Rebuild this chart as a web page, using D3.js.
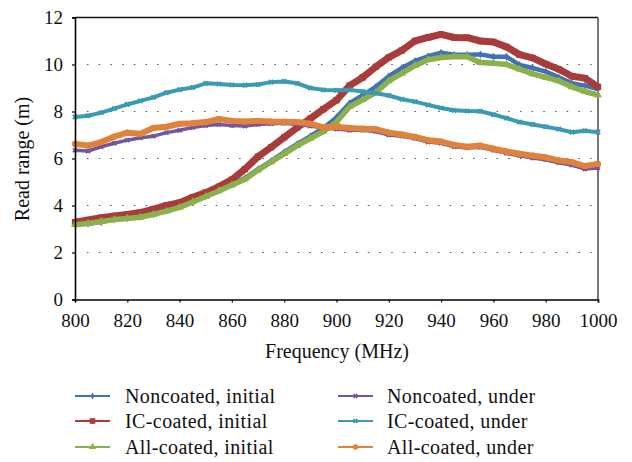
<!DOCTYPE html>
<html>
<head>
<meta charset="utf-8">
<script src="https://cdn.jsdelivr.net/npm/d3@7"></script>
<style>
  html, body { margin: 0; padding: 0; background: #fff; }
  svg { display: block; }
  svg text { font-family: "Liberation Serif", "Times New Roman", serif !important; fill: #111; }
</style>
</head>
<body>
<svg id="chart" width="632" height="462"></svg>
<script>
const freqs = [800,805,810,815,820,825,830,835,840,845,850,855,860,865,870,875,880,885,890,895,900,
               905,910,915,920,925,930,935,940,945,950,955,960,965,970,975,980,985,990,995,1000];

const noncoatedInitial = [3.20,3.22,3.30,3.40,3.46,3.52,3.63,3.78,3.95,4.17,4.40,4.65,4.90,5.17,5.55,5.90,6.27,6.62,6.95,7.30,7.75,
                          8.35,8.70,9.05,9.50,9.85,10.15,10.35,10.50,10.42,10.42,10.43,10.33,10.33,9.98,9.85,9.70,9.45,9.20,9.10,8.95];
const icCoatedInitial  = [3.29,3.38,3.48,3.55,3.62,3.70,3.85,4.00,4.12,4.35,4.55,4.80,5.10,5.55,6.08,6.48,6.90,7.32,7.70,8.10,8.48,
                          9.10,9.45,9.90,10.30,10.60,11.00,11.15,11.28,11.15,11.14,11.00,10.96,10.75,10.42,10.28,10.02,9.80,9.50,9.42,9.05];
const allCoatedInitial = [3.18,3.24,3.32,3.40,3.45,3.50,3.62,3.76,3.92,4.15,4.38,4.62,4.87,5.12,5.50,5.85,6.20,6.55,6.85,7.15,7.55,
                          8.20,8.50,8.80,9.30,9.62,9.95,10.20,10.30,10.33,10.33,10.08,10.05,10.00,9.80,9.60,9.45,9.30,9.05,8.85,8.70];
const noncoatedUnder   = [6.35,6.32,6.50,6.65,6.78,6.88,6.95,7.10,7.20,7.32,7.40,7.45,7.40,7.38,7.45,7.48,7.50,7.45,7.38,7.30,7.25,
                          7.20,7.20,7.15,7.00,6.95,6.85,6.70,6.65,6.50,6.45,6.48,6.35,6.22,6.12,6.02,5.95,5.82,5.72,5.55,5.60];
const icCoatedUnder    = [7.77,7.82,7.95,8.12,8.30,8.45,8.60,8.80,8.93,9.02,9.20,9.17,9.13,9.12,9.15,9.25,9.28,9.20,9.00,8.92,8.90,
                          8.92,8.85,8.78,8.68,8.52,8.42,8.28,8.15,8.05,8.02,8.01,7.87,7.72,7.55,7.45,7.35,7.25,7.12,7.18,7.12];
const allCoatedUnder   = [6.62,6.55,6.70,6.93,7.10,7.05,7.30,7.35,7.48,7.50,7.55,7.68,7.60,7.57,7.60,7.57,7.56,7.55,7.48,7.32,7.35,
                          7.30,7.27,7.25,7.10,7.02,6.92,6.78,6.72,6.58,6.50,6.55,6.42,6.30,6.20,6.12,6.05,5.92,5.85,5.68,5.77];

const seriesNames = ["Noncoated, initial","IC-coated, initial","All-coated, initial",
                     "Noncoated, under","IC-coated, under","All-coated, under"];
const xTicks = [800,820,840,860,880,900,920,940,960,980,1000];
const yTicks = [0,2,4,6,8,10,12];

const seriesValues = [noncoatedInitial, icCoatedInitial, allCoatedInitial, noncoatedUnder, icCoatedUnder, allCoatedUnder];
const styles = [
  {color:"#4072b5", width:4.5, symbol:d3.symbolDiamond,  size:18, rot:false},
  {color:"#a83c3a", width:7,   symbol:d3.symbolSquare,   size:40, rot:false},
  {color:"#8bb04c", width:5.5, symbol:d3.symbolTriangle, size:28, rot:false},
  {color:"#7356a0", width:3.5, symbol:d3.symbolCross,    size:18, rot:true},
  {color:"#3b9ab2", width:4,   symbol:d3.symbolCross,    size:20, rot:true},
  {color:"#e0823a", width:6,   symbol:d3.symbolCircle,   size:30, rot:false}
];

const FONT = '"Liberation Serif", "Times New Roman", serif';
const svg = d3.select("#chart");
const m = {left:75, right:598, top:17.5, bottom:299.5};
const x = d3.scaleLinear().domain([800,1000]).range([m.left, m.right]);
const y = d3.scaleLinear().domain([0,12]).range([m.bottom, m.top]);

// gridlines
svg.append("g").selectAll("line").data(yTicks.filter(v => v > 0 && v < 12)).join("line")
  .attr("x1", m.left + 12).attr("x2", m.right)
  .attr("y1", d => y(d)).attr("y2", d => y(d))
  .attr("stroke", "#555").attr("stroke-width", 1.2).attr("stroke-dasharray", "1.5,10.2");

// frame top/right
svg.append("line").attr("x1", m.left).attr("x2", m.right).attr("y1", m.top).attr("y2", m.top)
  .attr("stroke", "#111").attr("stroke-width", 1.3);
svg.append("line").attr("x1", m.right).attr("x2", m.right).attr("y1", m.top).attr("y2", m.bottom)
  .attr("stroke", "#555").attr("stroke-width", 1.6);

// series
const line = d3.line().x((d,i) => x(freqs[i])).y(d => y(d));
const plot = svg.append("g");
seriesValues.forEach((vals, k) => {
  const st = styles[k];
  plot.append("path").datum(vals).attr("d", line)
    .attr("fill", "none").attr("stroke", st.color).attr("stroke-width", st.width)
    .attr("stroke-linejoin", "round");
  plot.append("g").selectAll("path").data(vals).join("path")
    .attr("transform", (d,i) => `translate(${x(freqs[i])},${y(d)})` + (st.rot ? " rotate(45)" : ""))
    .attr("d", d3.symbol().type(st.symbol).size(st.size))
    .attr("fill", st.color);
});

// axes
const xAxis = svg.append("g").attr("transform", `translate(0,${m.bottom})`)
  .call(d3.axisBottom(x).tickValues(xTicks).tickSize(3).tickPadding(11).tickFormat(d3.format("d")));
const yAxis = svg.append("g").attr("transform", `translate(${m.left},0)`)
  .call(d3.axisLeft(y).tickValues(yTicks).tickSize(3).tickPadding(9).tickFormat(d3.format("d")));
[xAxis, yAxis].forEach(a => {
  a.attr("font-family", FONT);
  a.select(".domain").attr("stroke", "#000").attr("stroke-width", 1.6);
  a.selectAll(".tick line").attr("stroke", "#000").attr("stroke-width", 1.2);
  a.selectAll(".tick text").attr("font-size", 19).style("font-family", FONT).attr("fill", "#111");
});

// axis titles
svg.append("text").attr("x", 337).attr("y", 358).attr("text-anchor", "middle")
  .style("font-family", FONT).attr("font-size", 20).text("Frequency (MHz)");
svg.append("text").attr("transform", "translate(29,159) rotate(-90)").attr("text-anchor", "middle")
  .style("font-family", FONT).attr("font-size", 20).text("Read range (m)");

// legend
const legRows = [396, 421, 447];
const legCols = [{lx:75, tx:125}, {lx:338, tx:387}];
seriesNames.forEach((name, k) => {
  const st = styles[k];
  const col = legCols[Math.floor(k / 3)];
  const ry = legRows[k % 3];
  const g = svg.append("g");
  g.append("line").attr("x1", col.lx).attr("x2", col.lx + 35).attr("y1", ry).attr("y2", ry)
    .attr("stroke", st.color).attr("stroke-width", 2);
  g.append("path").attr("transform", `translate(${col.lx + 17.5},${ry})` + (st.rot ? " rotate(45)" : ""))
    .attr("d", d3.symbol().type(st.symbol).size(st.size * 0.8)).attr("fill", st.color);
  g.append("text").attr("x", col.tx).attr("y", ry + 6.5).attr("font-size", 20)
    .style("font-family", FONT).attr("letter-spacing", 0.4).text(name);
});
</script>
</body>
</html>
